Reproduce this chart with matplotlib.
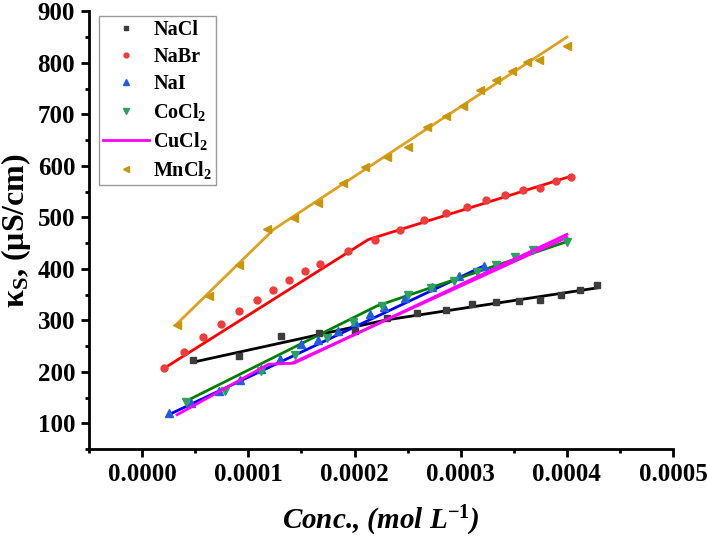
import matplotlib.pyplot as plt
from matplotlib.ticker import FormatStrFormatter, MultipleLocator

plt.rcParams["font.family"] = ["Liberation Serif", "DejaVu Serif"]
plt.rcParams["font.weight"] = "bold"
plt.rcParams["mathtext.fontset"] = "custom"
plt.rcParams["mathtext.rm"] = "Liberation Serif:bold"
plt.rcParams["mathtext.it"] = "Liberation Serif:bold:italic"

# measured points
nacl_x = [4.8e-5, 9.1e-5, 1.31e-4, 1.67e-4, 2.0e-4, 2.31e-4, 2.59e-4, 2.86e-4,
          3.11e-4, 3.33e-4, 3.55e-4, 3.75e-4, 3.94e-4, 4.12e-4, 4.28e-4]
nacl_y = [224, 230, 269, 276, 280, 304, 315, 320, 331, 335, 337, 340, 349, 360, 369]

nabr_x = [2.06e-5, 3.94e-5, 5.73e-5, 7.46e-5, 9.15e-5, 1.078e-4, 1.235e-4, 1.386e-4,
          1.53e-4, 1.674e-4, 1.94e-4, 2.19e-4, 2.43e-4, 2.65e-4, 2.86e-4, 3.06e-4,
          3.24e-4, 3.42e-4, 3.59e-4, 3.75e-4, 3.9e-4, 4.04e-4]
nabr_y = [207, 239, 267, 294, 318, 340, 360, 378, 395, 410, 435, 457, 476, 494, 508,
          521, 533, 543, 554, 558, 571, 579]

nai_x = [2.5e-5, 4.6e-5, 7.2e-5, 9.2e-5, 1.12e-4, 1.30e-4, 1.50e-4, 1.66e-4, 1.84e-4,
         2.0e-4, 2.15e-4, 2.28e-4, 2.48e-4, 2.73e-4, 2.98e-4, 3.22e-4]
nai_y = [121, 140, 163, 185, 205, 226, 255, 262, 279, 297, 313, 326, 343, 365, 386, 406]

cocl2_x = [4.1e-5, 7.8e-5, 1.12e-4, 1.44e-4, 1.74e-4, 1.99e-4, 2.26e-4, 2.5e-4,
           2.72e-4, 2.94e-4, 3.15e-4, 3.33e-4, 3.51e-4, 3.68e-4, 4.0e-4]
cocl2_y = [142, 163, 201, 232, 265, 297, 328, 349, 363, 377, 394, 408, 423, 437, 453]

cucl2_x = [3.3e-5, 1.19e-4, 1.43e-4, 4.0e-4]
cucl2_y = [117, 215, 217, 467]

mncl2_x = [3.3e-5, 6.3e-5, 9.1e-5, 1.18e-4, 1.43e-4, 1.66e-4, 1.89e-4, 2.10e-4,
           2.31e-4, 2.50e-4, 2.68e-4, 2.86e-4, 3.02e-4, 3.18e-4, 3.33e-4, 3.48e-4,
           3.62e-4, 3.74e-4, 4.0e-4]
mncl2_y = [291, 347, 407, 478, 498, 527, 567, 597, 617, 636, 676, 696, 716, 748,
           766, 785, 801, 805, 832]

# segmented fit lines
nacl_fit_x = [4.8e-5, 2.3e-4, 4.28e-4]
nacl_fit_y = [219, 301, 363]
nabr_fit_x = [2.06e-5, 2.13e-4, 4.04e-4]
nabr_fit_y = [207, 457, 580]
nai_fit_x = [2.5e-5, 3.22e-4]
nai_fit_y = [117, 406]
cocl2_fit_x = [4.1e-5, 2.21e-4, 4.0e-4]
cocl2_fit_y = [143, 328, 453]
cucl2_fit_x = [1.43e-4, 4.0e-4]
cucl2_fit_y = [219, 461]
mncl2_fit_x = [3.3e-5, 1.24e-4, 4.0e-4]
mncl2_fit_y = [294, 477, 850]

fig = plt.figure(figsize=(7.07, 5.38), dpi=100)
ax = fig.add_axes([0.126, 0.165, 0.826, 0.814])

ax.plot(nacl_fit_x, nacl_fit_y, color="black", lw=2)
ax.plot(nabr_fit_x, nabr_fit_y, color="#ff0000", lw=2)
ax.plot(nai_fit_x, nai_fit_y, color="#0000ff", lw=2)
ax.plot(cocl2_fit_x, cocl2_fit_y, color="#008000", lw=2)
ax.plot(cucl2_fit_x, cucl2_fit_y, color="#ff00ff", lw=2)
ax.plot(mncl2_fit_x, mncl2_fit_y, color="#e0a020", lw=2)

ax.plot(nacl_x, nacl_y, "s", color="#3c3c3c", ms=5, ls="none", label="NaCl")
ax.plot(nabr_x, nabr_y, "o", color="#f03c3c", ms=5, ls="none", label="NaBr")
ax.plot(nai_x, nai_y, "^", color="#1f5fdc", ms=6, ls="none", label="NaI")
ax.plot(cocl2_x, cocl2_y, "v", color="#2ca060", ms=6, ls="none", label="CoCl$_2$")
ax.plot(cucl2_x, cucl2_y, color="#ff00ff", lw=2, label="CuCl$_2$")
ax.plot(mncl2_x, mncl2_y, "<", color="#c8960a", ms=6, ls="none", label="MnCl$_2$")

ax.set_xlim(-0.00005, 0.0005)
ax.set_ylim(50, 900)
ax.xaxis.set_major_locator(MultipleLocator(0.0001))
ax.xaxis.set_minor_locator(MultipleLocator(0.00005))
ax.xaxis.set_major_formatter(FormatStrFormatter("%.4f"))
ax.yaxis.set_major_locator(MultipleLocator(100))
ax.yaxis.set_minor_locator(MultipleLocator(50))

for side in ["top", "right"]:
    ax.spines[side].set_visible(False)
for side in ["left", "bottom"]:
    ax.spines[side].set_linewidth(2)
ax.tick_params(which="major", length=6, width=2, labelsize=18, pad=4)
ax.tick_params(which="minor", length=3, width=2)

ax.set_xlabel("Conc., (mol L$^{-1}$)", fontsize=21, fontstyle="italic",
              fontweight="bold", labelpad=13)
ax.set_ylabel("κ$_\\mathrm{S}$, (μS/cm)", fontsize=23, fontweight="bold", labelpad=3)

leg = ax.legend(loc="upper left", bbox_to_anchor=(0.017, 0.99), borderaxespad=0,
                prop={"size": 14.5, "weight": "bold"}, frameon=True, fancybox=False,
                edgecolor="gray", markerscale=0.7, handlelength=2.3,
                handletextpad=0.2, labelspacing=0.35, borderpad=0.2)
leg.get_frame().set_linewidth(1)

plt.savefig("out.png", dpi=100)
plt.close()
